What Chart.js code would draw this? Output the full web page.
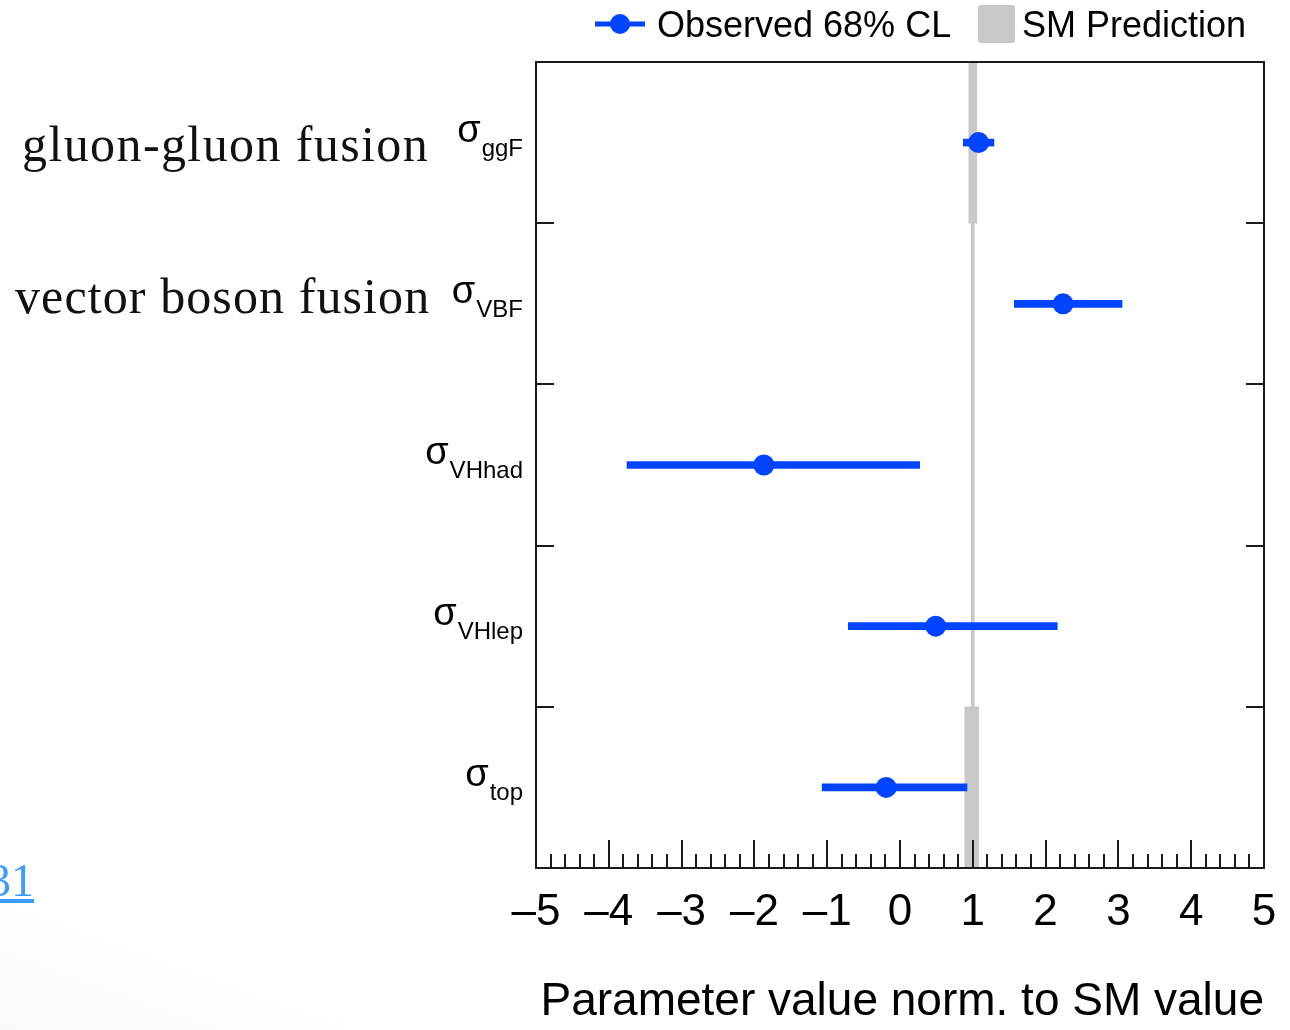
<!DOCTYPE html>
<html>
<head>
<meta charset="utf-8">
<script src="https://cdn.jsdelivr.net/npm/chart.js@4.4.1/dist/chart.umd.min.js"></script>
<style>
  body { margin: 0; background: #fff; }
  #wrap { position: relative; width: 1290px; height: 1030px; overflow: hidden; background: #fff; }
  #fade { position: absolute; left: 0; top: 860px; width: 340px; height: 170px;
          background: linear-gradient(200deg, rgba(255,255,255,0) 50%, #f9f9f9 100%); }
  canvas { position: absolute; left: 0; top: 0; }
  .proc { position: absolute; font-family: "Liberation Serif", serif; font-size: 50px;
          letter-spacing: 1.4px; color: #111; white-space: nowrap; line-height: 1; }
  #ref { position: absolute; left: -12px; top: 858px; font-family: "Liberation Serif", serif;
         font-size: 46px; color: #3d9bff; text-decoration: underline; line-height: 1; }
</style>
</head>
<body>
<div id="wrap">
  <div id="fade"></div>
  <canvas id="mu-chart" width="1290" height="1030"></canvas>
  <div class="proc" style="left:22px; top:119px;">gluon-gluon fusion</div>
  <div class="proc" style="left:15px; top:271px; letter-spacing:1.1px;">vector boson fusion</div>
  <a id="ref">31</a>
</div>
<script>
// production modes (top to bottom)
let processes = ['ggF', 'VBF', 'VHhad', 'VHlep', 'top'];

// observed signal strengths and 68% CL intervals
let observed = [1.08, 2.24, -1.87, 0.49, -0.19];
let errLow   = [0.87, 1.57, -3.75, -0.71, -1.07];
let errHigh  = [1.29, 3.05, 0.27, 2.16, 0.92];

// SM prediction band (theory uncertainty)
let smLow  = [0.945, 0.979, 0.979, 0.979, 0.89];
let smHigh = [1.055, 1.021, 1.021, 1.021, 1.08];

let xTicks = [-5, -4, -3, -2, -1, 0, 1, 2, 3, 4, 5];

let blue = '#0044ff';
let grey = '#c8c8c8';
let ink = '#1a1a1a';

Chart.defaults.font.family = '"Liberation Sans", Arial, sans-serif';
Chart.defaults.color = '#000';

// frame, inner tick marks, sigma labels and legend
let decorations = {
  id: 'decorations',
  afterDraw(chart) {
    let ctx = chart.ctx;
    let area = chart.chartArea;
    let xs = chart.scales.x;
    let ys = chart.scales.y;
    ctx.save();

    // minor and major ticks along the x axis, pointing up
    ctx.strokeStyle = ink;
    ctx.lineWidth = 2;
    for (let i = 0; i <= 50; i++) {
      let v = -5 + i * 0.2;
      let px = Math.round(xs.getPixelForValue(v));
      let len = (i % 5 === 0) ? 28 : 14;
      ctx.beginPath();
      ctx.moveTo(px, area.bottom);
      ctx.lineTo(px, area.bottom - len);
      ctx.stroke();
    }

    // row boundary ticks on both sides
    let step = (area.bottom - area.top) / processes.length;
    for (let i = 1; i < processes.length; i++) {
      let py = Math.round(ys.getPixelForValue(i) - step / 2);
      ctx.beginPath();
      ctx.moveTo(area.left, py);
      ctx.lineTo(area.left + 18, py);
      ctx.moveTo(area.right, py);
      ctx.lineTo(area.right - 18, py);
      ctx.stroke();
    }

    // frame
    ctx.strokeRect(area.left, area.top, area.right - area.left, area.bottom - area.top);

    // sigma labels with subscripts
    ctx.fillStyle = '#000';
    ctx.textAlign = 'right';
    ctx.textBaseline = 'alphabetic';
    processes.forEach((p, i) => {
      let cy = ys.getPixelForValue(i);
      ctx.font = '24px "Liberation Sans", Arial, sans-serif';
      let w = ctx.measureText(p).width;
      ctx.fillText(p, 523, cy + 13);
      ctx.font = '38px "Liberation Sans", Arial, sans-serif';
      ctx.fillText('\u03c3', 523 - w - 1, cy - 1);
    });

    // legend
    ctx.strokeStyle = blue;
    ctx.lineWidth = 5;
    ctx.beginPath();
    ctx.moveTo(595, 24);
    ctx.lineTo(645, 24);
    ctx.stroke();
    ctx.fillStyle = blue;
    ctx.beginPath();
    ctx.arc(620, 24, 10, 0, Math.PI * 2);
    ctx.fill();
    ctx.fillStyle = '#000';
    ctx.textAlign = 'left';
    ctx.font = '36px "Liberation Sans", Arial, sans-serif';
    ctx.fillText('Observed 68% CL', 657, 37);
    ctx.fillStyle = grey;
    ctx.beginPath();
    ctx.roundRect(978, 5, 37, 38, 3);
    ctx.fill();
    ctx.fillStyle = '#000';
    ctx.fillText('SM Prediction', 1022, 37);

    ctx.restore();
  }
};

let renderChart = () => {
  let ctx = document.getElementById('mu-chart').getContext('2d');

  new Chart(ctx, {
    type: 'bar',
    data: {
      labels: processes,
      datasets: [
        {
          label: 'SM Prediction',
          data: processes.map((p, i) => [smLow[i], smHigh[i]]),
          backgroundColor: grey,
          borderWidth: 0,
          barPercentage: 1,
          categoryPercentage: 1,
          grouped: false,
          order: 3,
        },
        {
          label: 'Observed 68% CL',
          data: processes.map((p, i) => [errLow[i], errHigh[i]]),
          backgroundColor: blue,
          borderWidth: 0,
          barThickness: 7,
          grouped: false,
          order: 2,
        },
        {
          type: 'line',
          label: 'Observed',
          data: processes.map((p, i) => ({ x: observed[i], y: p })),
          showLine: false,
          pointRadius: 10.5,
          pointHoverRadius: 10.5,
          pointBackgroundColor: blue,
          pointBorderWidth: 0,
          order: 1,
        },
      ],
    },
    options: {
      indexAxis: 'y',
      responsive: false,
      animation: false,
      devicePixelRatio: 1,
      layout: { padding: { top: 62, right: 26, left: 0, bottom: 0 } },
      plugins: {
        legend: { display: false },
        tooltip: { enabled: false },
      },
      scales: {
        x: {
          type: 'linear',
          position: 'bottom',
          min: -5,
          max: 5,
          afterBuildTicks: (scale) => { scale.ticks = xTicks.map(v => ({ value: v })); },
          grid: { display: false, drawTicks: false },
          border: { display: true, color: ink, width: 2 },
          ticks: {
            font: { size: 44 },
            color: '#000',
            padding: 18,
            maxRotation: 0,
            callback: (v) => v < 0 ? '\u2013' + Math.abs(v) : '' + v,
          },
          title: {
            display: true,
            text: 'Parameter value norm. to SM value',
            align: 'end',
            color: '#000',
            font: { size: 46 },
            padding: { top: 0, bottom: 0 },
          },
          afterFit: (scale) => {
            scale.height = 162;
            scale.paddingLeft = 0;
            scale.paddingRight = 0;
          },
        },
        y: {
          type: 'category',
          position: 'left',
          grid: { display: false, drawTicks: false },
          border: { display: true, color: ink, width: 2 },
          ticks: { display: false },
          afterFit: (scale) => {
            scale.width = 536;
            scale.paddingTop = 0;
            scale.paddingBottom = 0;
          },
        },
      },
    },
    plugins: [decorations],
  });
};

renderChart();
</script>
</body>
</html>
